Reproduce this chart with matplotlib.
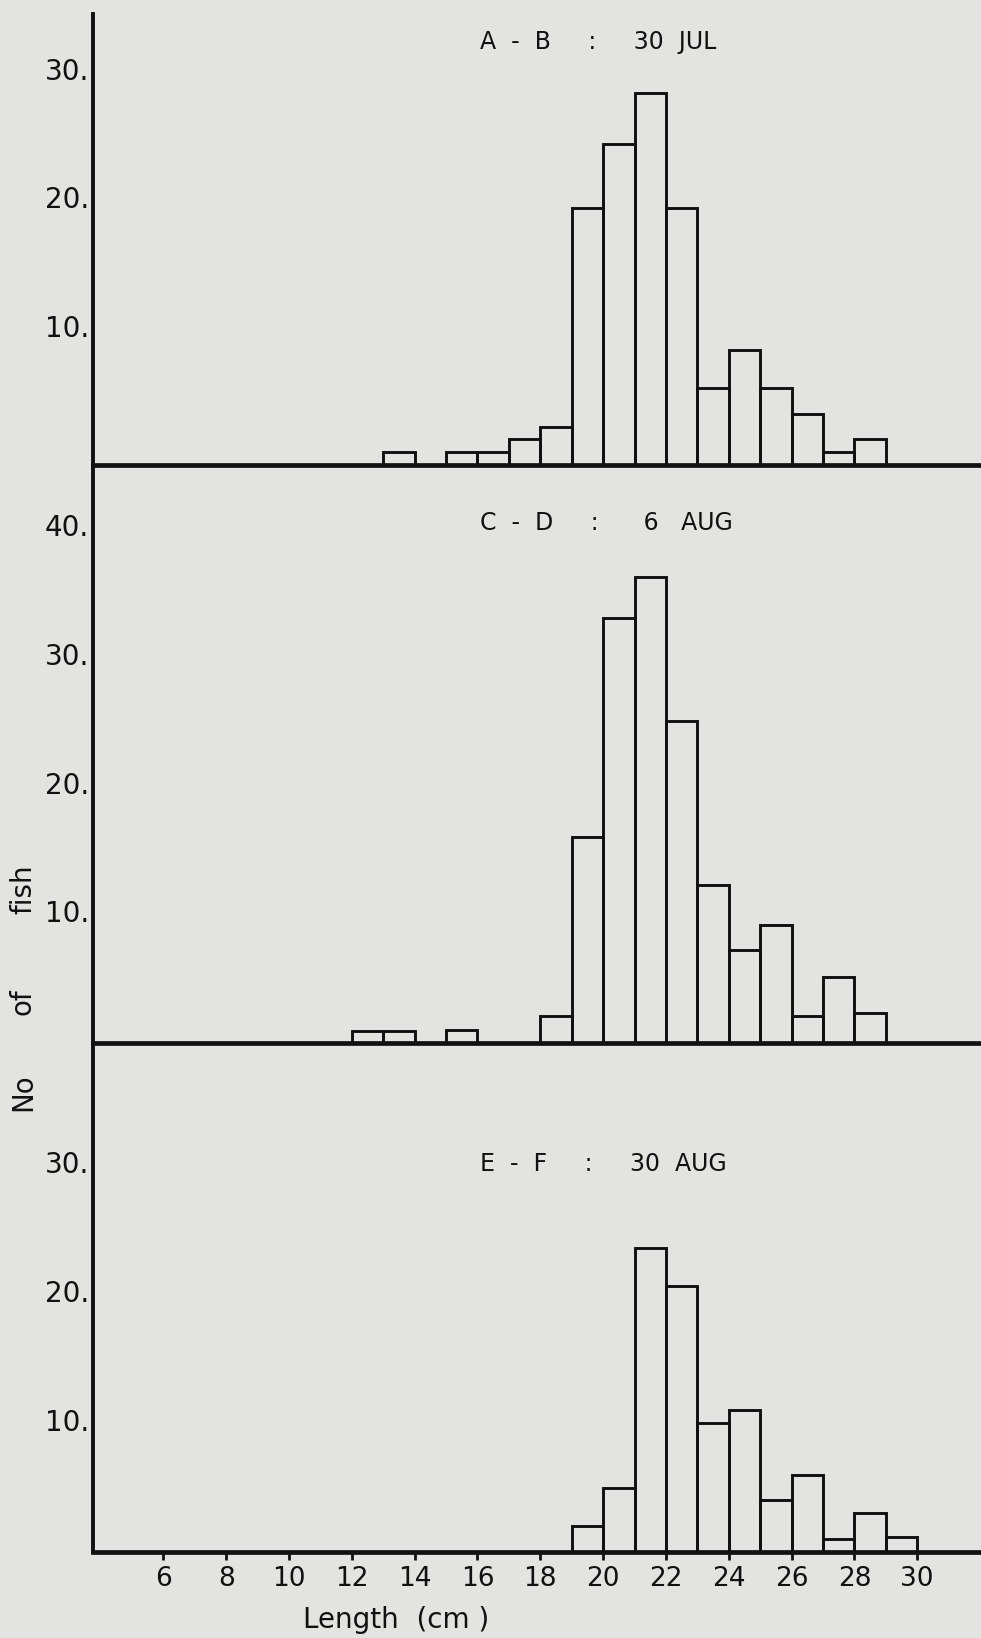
import matplotlib
matplotlib.use("Agg")
import matplotlib.pyplot as plt

# ---- data (length class lower edge in cm, number of fish) ----
bins_ab = [13, 15, 16, 17, 18, 19, 20, 21, 22, 23, 24, 25, 26, 27, 28]
counts_ab = [1, 1, 1, 2, 3, 20, 25, 29, 20, 6, 9, 6, 4, 1, 2]

bins_cd = [12, 13, 15, 18, 19, 20, 21, 22, 23, 24, 25, 26, 27, 28]
counts_cd = [0.9, 0.9, 1.0, 2.1, 16, 33, 36.2, 25, 12.3, 7.2, 9.2, 2.1, 5.1, 2.3]

bins_ef = [19, 20, 21, 22, 23, 24, 25, 26, 27, 28, 29]
counts_ef = [2, 5, 23.6, 20.6, 10, 11, 4, 6, 1, 3, 1.2]

titles = ["A  -  B     :     30  JUL",
          "C  -  D     :      6   AUG",
          "E  -  F     :     30  AUG"]
yticks_ab = [10, 20, 30]
yticks_cd = [10, 20, 30, 40]
yticks_ef = [10, 20, 30]
xticks = [6, 8, 10, 12, 14, 16, 18, 20, 22, 24, 26, 28, 30]
xlabel = "Length  (cm )"
ylabel_words = ["No", "of", "fish"]

BG = "#e3e3e1"
INK = "#111111"
W, H = 981, 1638

fig = plt.figure(figsize=(W / 100, H / 100), dpi=100)
fig.patch.set_facecolor(BG)

left = 93 / W
# (top px, bottom px, ymax, bins, counts, yticks, title y px, tick label va)
panels = [
    (14, 465, 35.15, bins_ab, counts_ab, yticks_ab, 42, "baseline"),
    (465, 1043, 44.9, bins_cd, counts_cd, yticks_cd, 523, "center"),
    (1043, 1552, 39.46, bins_ef, counts_ef, yticks_ef, 1164, "center"),
]

for i, (top, bot, ymax, bins, counts, yt, ty, va) in enumerate(panels):
    ax = fig.add_axes([left, 1 - bot / H, 1 - left, (bot - top) / H])
    ax.patch.set_visible(False)
    ax.bar(bins, counts, width=1, align="edge", fill=False,
           edgecolor=INK, linewidth=2.1)
    ax.set_xlim(3.76, 32.03)
    ax.set_ylim(0, ymax)
    for s in ["top", "right"]:
        ax.spines[s].set_visible(False)
    ax.spines["left"].set_linewidth(2.8)
    ax.spines["bottom"].set_linewidth(3.4)
    ax.spines["left"].set_color(INK)
    ax.spines["bottom"].set_color(INK)
    ax.set_yticks(yt)
    ax.set_yticklabels([f"{v}." for v in yt])
    ax.tick_params(axis="y", length=0, pad=3, labelsize=20, labelcolor=INK)
    for lab in ax.get_yticklabels():
        lab.set_va(va)
    if i < 2:
        ax.set_xticks([])
    else:
        ax.set_xticks(xticks)
        ax.set_xticklabels([str(v) for v in xticks])
        ax.tick_params(axis="x", length=6, width=2, direction="out",
                       pad=4, labelsize=19, labelcolor=INK, color=INK)
    fig.text(480 / W, 1 - ty / H, titles[i], ha="left", va="center",
             fontsize=17, color=INK)

fig.text(396 / W, 1 - 1620 / H, xlabel, ha="center", va="center",
         fontsize=20, color=INK)

for word, yc in zip(ylabel_words, [1092, 1002, 889]):
    fig.text(23 / W, 1 - yc / H, word, rotation=90, ha="center", va="center",
             fontsize=20, color=INK)

fig.savefig("out.png", dpi=100, facecolor=BG)
